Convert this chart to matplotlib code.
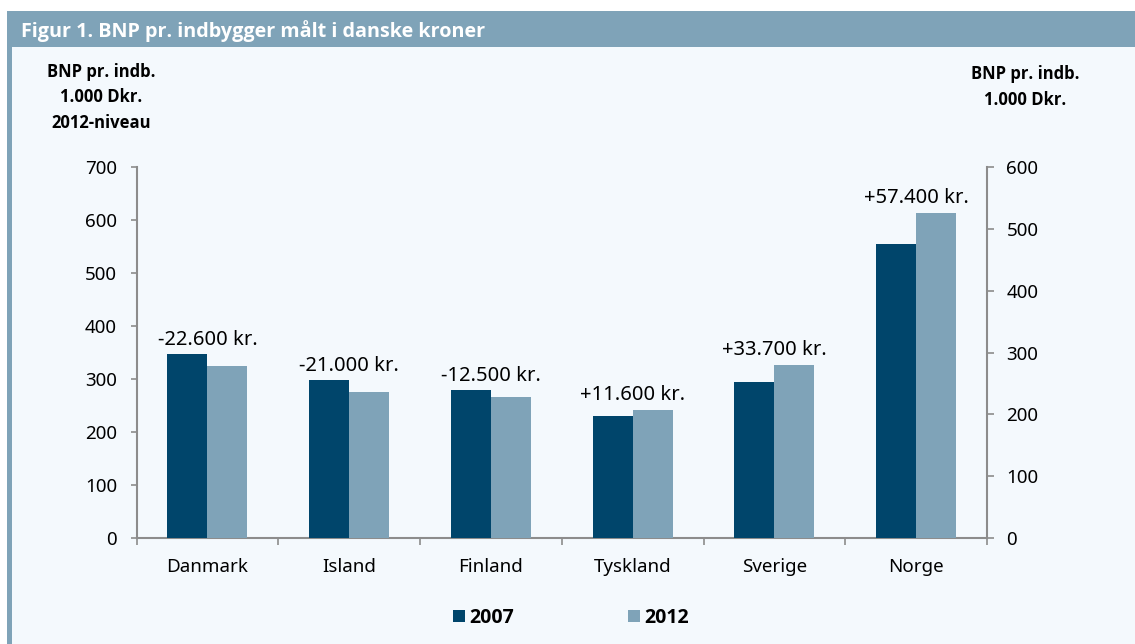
import matplotlib
matplotlib.use("Agg")
import matplotlib.pyplot as plt
from matplotlib.patches import Rectangle, Patch
import numpy as np

categories = ["Danmark", "Island", "Finland", "Tyskland", "Sverige", "Norge"]
values_2007 = [346.5, 297.5, 278.5, 231, 293.5, 555]
values_2012 = [324, 276.5, 266, 242.6, 326.7, 612.4]
change_labels = ["-22.600 kr.", "-21.000 kr.", "-12.500 kr.", "+11.600 kr.", "+33.700 kr.", "+57.400 kr."]
series_names = ["2007", "2012"]
left_ticks = [0, 100, 200, 300, 400, 500, 600, 700]
right_ticks = [0, 100, 200, 300, 400, 500, 600]

C2007 = "#00456b"
C2012 = "#7fa3b8"
BG = "#f4f9fd"
FRAME = "#7fa3b8"
SPINE = "#8c8c8c"

W, H = 1135, 644
fig = plt.figure(figsize=(W / 100, H / 100), dpi=100)
fig.patch.set_facecolor("white")

def fx(px): return px / W
def fy(py): return 1 - py / H

# frame
fig.patches.append(Rectangle((fx(12), 0), 1 - fx(12), fy(47), transform=fig.transFigure,
                             facecolor=BG, edgecolor="none", zorder=-5))
fig.patches.append(Rectangle((fx(7), fy(47)), 1 - fx(7), fy(11) - fy(47), transform=fig.transFigure,
                             facecolor=FRAME, edgecolor="none", zorder=-5))
fig.patches.append(Rectangle((fx(7), 0), fx(12) - fx(7), fy(47), transform=fig.transFigure,
                             facecolor=FRAME, edgecolor="none", zorder=-5))

FONT = "Noto Sans"
BOLDFONT = "Open Sans"

fig.text(fx(21), fy(31), "Figur 1. BNP pr. indbygger målt i danske kroner", color="white",
         fontsize=14.2, fontweight="bold", family=BOLDFONT, ha="left", va="center")

left, right, top, bottom = 136.5, 987, 166.7, 538.3
ax = fig.add_axes([fx(left), fy(bottom), fx(right) - fx(left), fy(top) - fy(bottom)])
ax.set_facecolor("none")
ax.set_zorder(2)

x = np.arange(len(categories))
w = 0.283
ax.bar(x - w / 2, values_2007, w, color=C2007, label=series_names[0], zorder=3)
ax.bar(x + w / 2, values_2012, w, color=C2012, label=series_names[1], zorder=3)

for xi, a, b, lab in zip(x, values_2007, values_2012, change_labels):
    ax.annotate(lab, (xi, max(a, b)), xytext=(0, 7), textcoords="offset points",
                ha="center", va="baseline", fontsize=14.5, family=FONT, color="black")

ax.set_xlim(-0.5, len(categories) - 0.5)
ax.set_ylim(0, 700)
ax.set_yticks(left_ticks)
ax.set_yticklabels([str(t) for t in left_ticks], family=FONT, fontsize=13.5)
ax.set_xticks(x)
ax.set_xticklabels(categories, family=FONT, fontsize=13.5)
ax.set_xticks(np.arange(-0.5, len(categories), 1.0), minor=True)
ax.tick_params(axis="x", which="major", length=0, pad=14)
ax.tick_params(axis="x", which="minor", length=5, width=1.2, color=SPINE, direction="out")
ax.tick_params(axis="y", length=4, width=1.2, color=SPINE, pad=10)
for s in ["top", "right"]:
    ax.spines[s].set_visible(False)
for s in ["left", "bottom"]:
    ax.spines[s].set_color(SPINE)
    ax.spines[s].set_linewidth(1.5)

ax2 = ax.twinx()
ax2.set_zorder(2)
ax2.set_facecolor("none")
ax2.set_ylim(0, 600)
ax2.set_yticks(right_ticks)
ax2.set_yticklabels([str(t) for t in right_ticks], family=FONT, fontsize=13.5)
ax2.tick_params(axis="y", length=5, width=1.2, color=SPINE, pad=9)
for s in ["top", "left", "bottom"]:
    ax2.spines[s].set_visible(False)
ax2.spines["right"].set_color(SPINE)
ax2.spines["right"].set_linewidth(1.5)

hdr = dict(fontsize=12, fontweight="bold", family=BOLDFONT, ha="center", va="center", linespacing=1.55)
fig.text(fx(101.5), fy(97.5), "BNP pr. indb.\n1.000 Dkr.\n2012-niveau", **hdr)
fig.text(fx(1025), fy(87), "BNP pr. indb.\n1.000 Dkr.", **hdr)

handles = [Patch(facecolor=C2007), Patch(facecolor=C2012)]
fig.legend(handles, series_names, ncol=2, loc="center", bbox_to_anchor=(fx(571), fy(618)),
           frameon=False, handlelength=0.62, handleheight=0.62, handletextpad=0.2,
           columnspacing=5.9, prop=dict(family=BOLDFONT, weight="bold", size=14))

fig.savefig("out.png", dpi=100, facecolor=fig.get_facecolor())
